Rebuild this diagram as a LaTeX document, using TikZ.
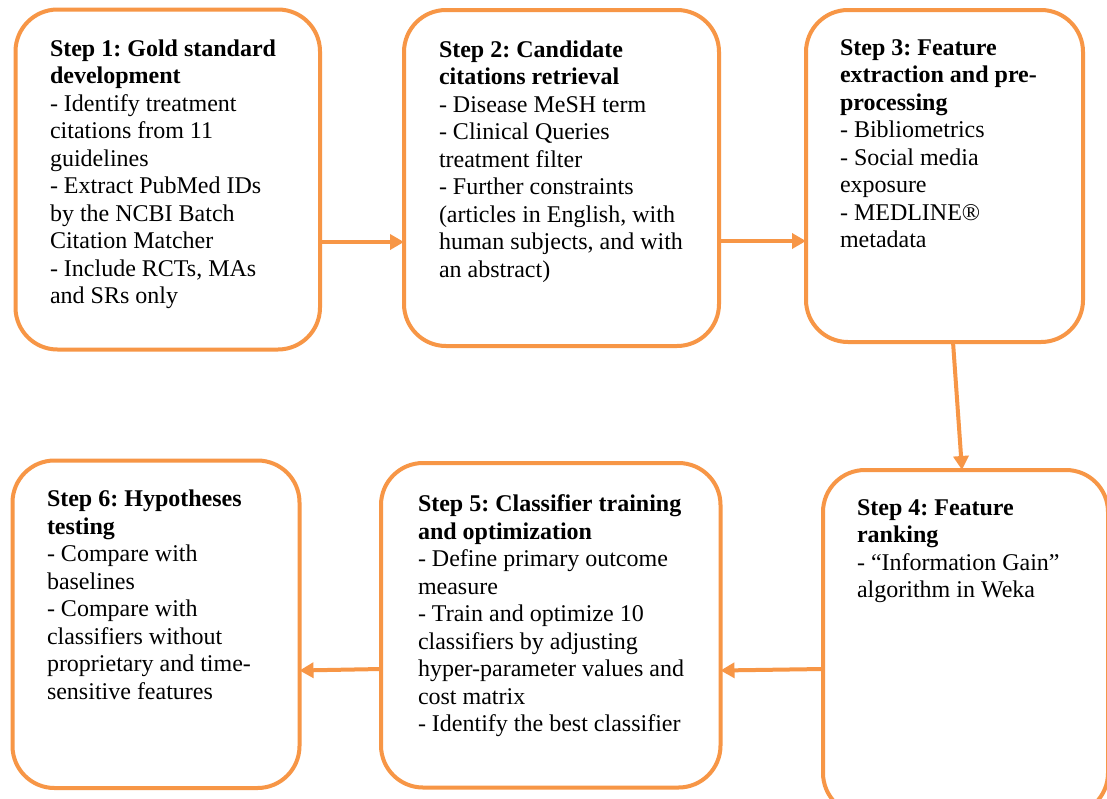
\documentclass[tikz,border=0pt]{standalone}
\usepackage{fontspec}
\setmainfont{Liberation Serif}
\usetikzlibrary{arrows.meta,calc}
\definecolor{boxorange}{RGB}{247,150,70}
\frenchspacing
\tikzset{
  stepbox/.style={draw=boxorange, line width=4pt, rounded corners=42pt, inner sep=0pt, outer sep=0pt, fill=none},
  steptext/.style={anchor=base west, inner sep=0pt, outer sep=0pt},
  flowarrow/.style={draw=boxorange, line width=4pt, -{Triangle[length=14pt,width=15pt]}}
}
\newcommand{\steptxt}[1]{\parbox[t]{320pt}{\fontsize{24}{27.5}\selectfont\frenchspacing\raggedright #1}}
\begin{document}
\begin{tikzpicture}[x=1pt,y=-1pt]
\useasboundingbox (0,0) rectangle (1107,798);
\clip (0,0) rectangle (1107,798);
\fill[white] (0,0) rectangle (1107,798);

% boxes
\node[stepbox, minimum width=304.5pt, minimum height=340pt] (b1) at (167.75,179.5) {};
\node[stepbox, minimum width=315pt, minimum height=336pt] (b2) at (561.5,178) {};
\node[stepbox, minimum width=277pt, minimum height=332pt] (b3) at (944.5,176) {};
\node[stepbox, minimum width=285pt, minimum height=345pt] (b4) at (965.5,642.5) {};
\node[stepbox, minimum width=339.5pt, minimum height=324.5pt] (b5) at (550.75,625.25) {};
\node[stepbox, minimum width=287pt, minimum height=327.5pt] (b6) at (156,624.25) {};

% texts
\node[steptext] (t1) at (50,56) {\steptxt{\textbf{Step 1: Gold standard}\\
\textbf{development}\\
- Identify treatment\\
citations from 11\\
guidelines\\
- Extract PubMed IDs\\
by the NCBI Batch\\
Citation Matcher\\
- Include RCTs, MAs\\
and SRs only}};

\node[steptext] (t2) at (439,57) {\steptxt{\textbf{Step 2: Candidate}\\
\textbf{citations retrieval}\\
- Disease MeSH term\\
- Clinical Queries\\
treatment filter\\
- Further constraints\\
(articles in English, with\\
human subjects, and with\\
an abstract)}};

\node[steptext] (t3) at (840,55) {\steptxt{\textbf{Step 3: Feature}\\
\textbf{extraction and pre-}\\
\textbf{processing}\\
- Bibliometrics\\
- Social media\\
exposure\\
- MEDLINE®\\
metadata}};

\node[steptext] (t4) at (857,515) {\steptxt{\textbf{Step 4: Feature}\\
\textbf{ranking}\\
- “Information Gain”\\
algorithm in Weka}};

\node[steptext] (t5) at (418,511.5) {\steptxt{\textbf{Step 5: Classifier training}\\
\textbf{and optimization}\\
- Define primary outcome\\
measure\\
- Train and optimize 10\\
classifiers by adjusting\\
hyper-parameter values and\\
cost matrix\\
- Identify the best classifier}};

\node[steptext] (t6) at (47,506.5) {\steptxt{\textbf{Step 6: Hypotheses}\\
\textbf{testing}\\
- Compare with\\
baselines\\
- Compare with\\
classifiers without\\
proprietary and time-\\
sensitive features}};

% helper coordinates for connector heights
\coordinate (y12) at (0,242);
\coordinate (y23) at (0,241);
\coordinate (x34a) at (953,0);
\coordinate (x34b) at (962,0);
\coordinate (y45a) at (0,669);
\coordinate (y45b) at (0,670.5);
\coordinate (y56a) at (0,669);
\coordinate (y56b) at (0,670.5);

% connectors
\draw[flowarrow] (b1.east |- y12) -- (b2.west |- y12);
\draw[flowarrow] (b2.east |- y23) -- (b3.west |- y23);
\draw[flowarrow] (b3.south -| x34a) -- (b4.north -| x34b);
\draw[flowarrow] (b4.west |- y45a) -- (b5.east |- y45b);
\draw[flowarrow] (b5.west |- y56a) -- (b6.east |- y56b);
\end{tikzpicture}
\end{document}
